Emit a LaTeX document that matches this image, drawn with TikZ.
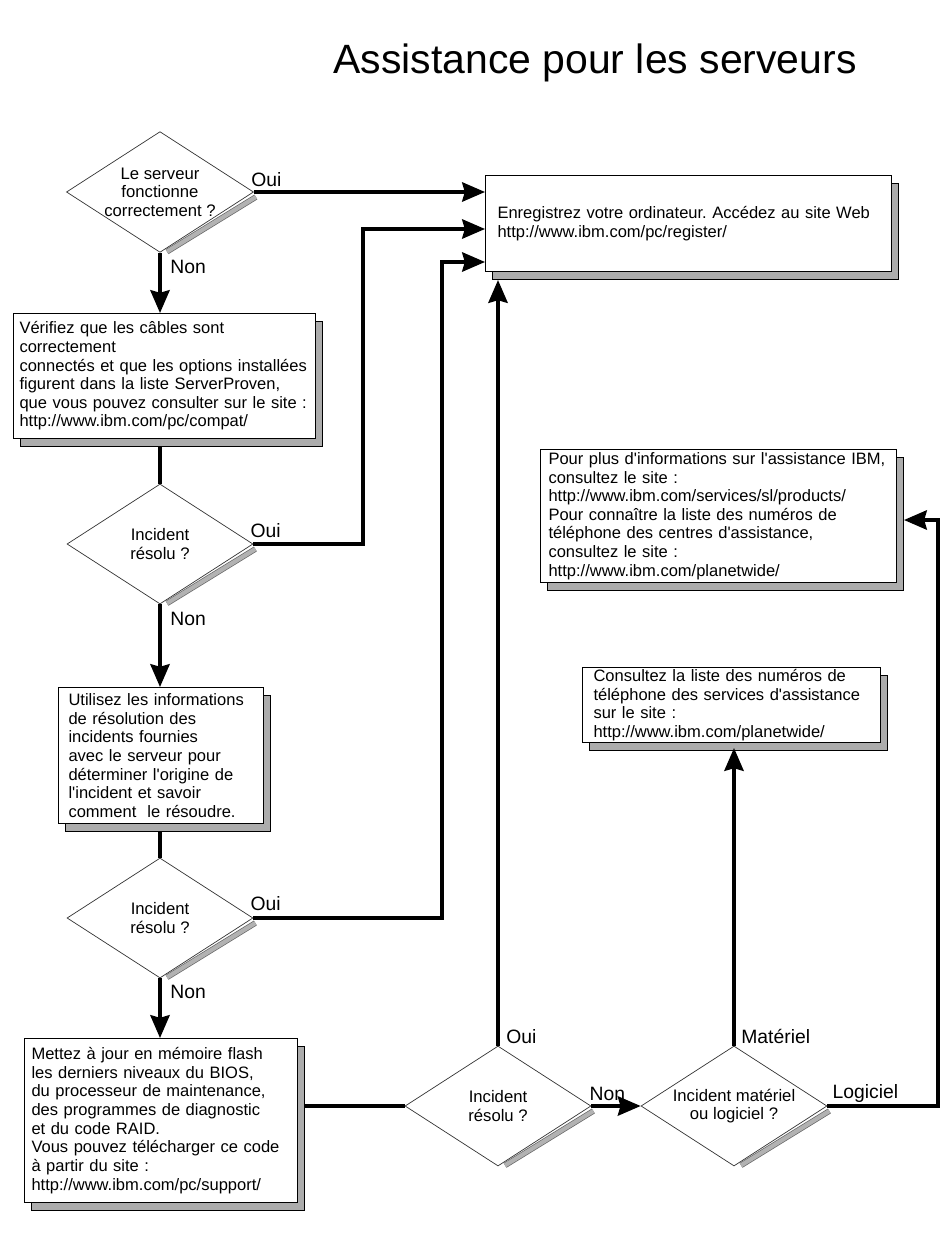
\documentclass[tikz,border=0pt]{standalone}
\usepackage{fontspec}
\setmainfont{Liberation Sans}
\usepackage{tikz}
\usetikzlibrary{positioning,calc,shapes.geometric,shadows,arrows.meta}
\newcommand{\apo}{\textquotesingle}
\frenchspacing

\begin{document}
\begin{tikzpicture}[x=0.02cm,y=-0.02cm]
        % Kiểu cho ô hỏi (hình thoi), hộp thông tin, mũi tên và nhãn
        \tikzstyle{hoi} = [
            draw=black!80,
            line width=0.4pt,
            shape=diamond,
            aspect=1.55,
            minimum width=3.72cm,
            minimum height=2.4cm,
            inner sep=0pt,
            align=center,
            font=\fontsize{9.5}{10.6}\selectfont
        ]
        \tikzstyle{hop} = [
            draw=black,
            line width=0.6pt,
            fill=white,
            anchor=north west,
            align=left,
            inner ysep=1pt,
            font=\fontsize{9.4}{10.6}\selectfont,
            drop shadow={shadow xshift=0.13cm, shadow yshift=-0.15cm,
                fill=gray!65, draw=black, line width=0.5pt, opacity=1}
        ]
        \tikzstyle{bong} = [draw=black!60, line width=0.4pt, double=gray!60, double distance=2.4pt]
        \tikzstyle{duong} = [line width=1.9pt]
        \tikzstyle{muiten} = [duong, -{Stealth[length=13pt,width=11pt,inset=1.5pt]}]
        \tikzstyle{nhan} = [font=\fontsize{11}{13}\selectfont, anchor=base west, inner sep=0pt]

        \useasboundingbox (0,0) rectangle (950,1260);

        % Tiêu đề
        \node (tieude) at (595,63) {\fontsize{23.3}{28}\selectfont Assistance pour les serveurs};

        % Các ô hỏi
        \node[hoi] (q1) at (160,192) {Le serveur\\fonctionne\\correctement ?};
        \node[hoi] (q2) at (160,544) {Incident\\résolu ?};
        \node[hoi] (q3) at (160,918) {Incident\\résolu ?};
        \node[hoi] (q4) at (498,1106) {Incident\\résolu ?};
        \node[hoi] (q5) at (734,1106) {Incident matériel\\ou logiciel ?};
        \foreach \q in {q1,q2,q3,q4,q5} {
            \draw[bong] ([shift={(2,5)}]\q.east) -- ([shift={(7,-1)}]\q.south);
        }

        % Các hộp thông tin
        \node[hop, text width=7.64cm, inner xsep=0.24cm, minimum height=1.92cm] (b1) at (485,175)
            {Enregistrez votre ordinateur. Accédez au site Web\\http://www.ibm.com/pc/register/};
        \node[hop, text width=5.8cm, inner xsep=0.12cm, minimum height=2.5cm] (b2) at (13,313)
            {Vérifiez que les câbles sont\\correctement\\connectés et que les options installées\\figurent dans la liste ServerProven,\\que vous pouvez consulter sur le site :\\http://www.ibm.com/pc/compat/};
        \node[hop, text width=3.7cm, inner xsep=0.2cm, minimum height=2.72cm] (b3) at (58,687)
            {Utilisez les informations\\de résolution des\\incidents fournies\\avec le serveur pour\\déterminer l\apo origine de\\l\apo incident et savoir\\comment\ \ le résoudre.};
        \node[hop, text width=5.18cm, inner xsep=0.14cm, minimum height=3.28cm] (b4) at (24,1038)
            {Mettez à jour en mémoire flash\\les derniers niveaux du BIOS,\\du processeur de maintenance,\\des programmes de diagnostic\\et du code RAID.\\Vous pouvez télécharger ce code\\à partir du site :\\http://www.ibm.com/pc/support/};
        \node[hop, text width=5.52cm, inner xsep=0.22cm, minimum height=1.5cm] (b5) at (582,667)
            {Consultez la liste des numéros de\\téléphone des services d\apo assistance\\sur le site :\\http://www.ibm.com/planetwide/};
        \node[hop, text width=6.8cm, inner xsep=0.16cm, minimum height=2.66cm] (b6) at (540,449)
            {Pour plus d\apo informations sur l\apo assistance IBM,\\consultez le site :\\http://www.ibm.com/services/sl/products/\\Pour connaître la liste des numéros de\\téléphone des centres d\apo assistance,\\consultez le site :\\http://www.ibm.com/planetwide/};

        % Điểm gấp của các đường nối
        \coordinate (g2) at (363,229);
        \coordinate (g3) at (442,262);
        \coordinate (g5) at (938,520);

        % Nhánh Oui về hộp đăng ký
        \draw[muiten] (q1.east) -- (q1.east -| b1.west);
        \draw[muiten] (q2.east) -| (g2) -- (g2 -| b1.west);
        \draw[muiten] (q3.east) -| (g3) -- (g3 -| b1.west);
        \draw[muiten] (q4.north) -- ($(q4.north |- b1.south)+(0,8)$);

        % Nhánh Non đi xuống
        \draw[muiten] (q1.south) -- (q1.south |- b2.north);
        \draw[duong] ($(q2.north |- b2.south)+(0,7)$) -- (q2.north);
        \draw[muiten] (q2.south) -- (q2.south |- b3.north);
        \draw[duong] ($(q3.north |- b3.south)+(0,7)$) -- (q3.north);
        \draw[muiten] (q3.south) -- (q3.south |- b4.north);
        \draw[duong] ($(q4.west -| b4.east)+(6,0)$) -- (q4.west);
        \draw[muiten] (q4.east) -- (q5.west);
        \draw[muiten] (q5.north) -- ($(q5.north |- b5.south)+(0,5)$);
        \draw[muiten] (q5.east) -| (g5) -- ($(g5 -| b6.east)+(7,0)$);

        % Nhãn trên các nhánh
        \node[nhan] (oui1) at ($(q1.east)+(-3,-5)$) {Oui};
        \node[nhan] (non1) at ($(q1.south)+(10,21)$) {Non};
        \node[nhan] (oui2) at ($(q2.east)+(-3,-7)$) {Oui};
        \node[nhan] (non2) at ($(q2.south)+(10,21)$) {Non};
        \node[nhan] (oui3) at ($(q3.east)+(-3,-8)$) {Oui};
        \node[nhan] (non3) at ($(q3.south)+(10,20)$) {Non};
        \node[nhan] (oui4) at ($(q4.north)+(8,-2)$) {Oui};
        \node[nhan] (non4) at ($(q4.east)+(-2,-6)$) {Non};
        \node[nhan] (mat) at ($(q5.north)+(7,-2)$) {Matériel};
        \node[nhan] (logi) at ($(q5.east)+(5,-8)$) {Logiciel};
    \end{tikzpicture}
\end{document}
